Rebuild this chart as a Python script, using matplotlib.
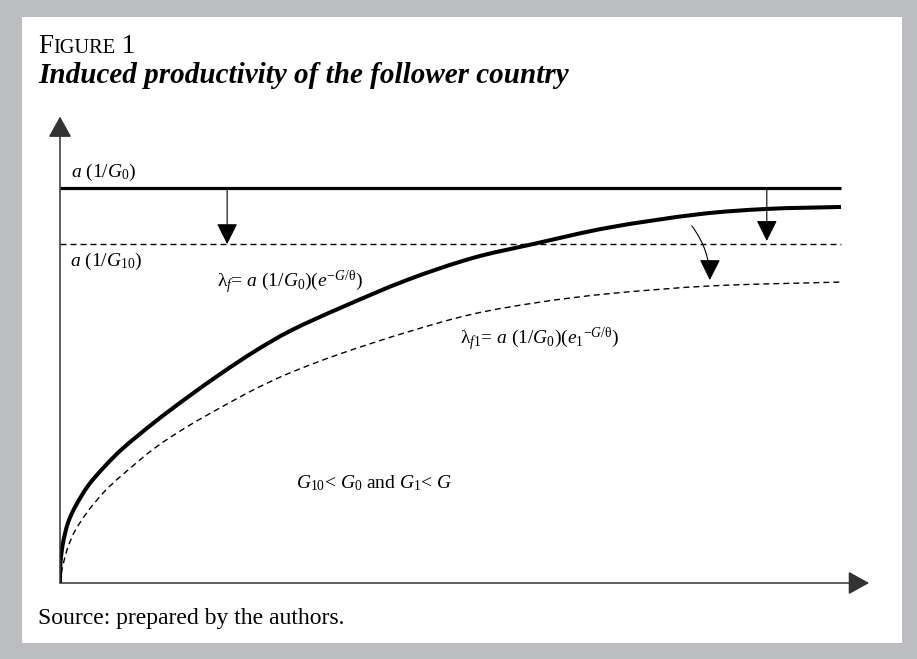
import numpy as np
import matplotlib.pyplot as plt
from matplotlib.patches import Rectangle, PathPatch
from matplotlib.path import Path

# Data (schematic units: G on x, productivity on y)
top_level = 10.0        # a (1/G0)
low_level = 8.58        # a (1/G10)

g_solid = [0, 0.006, 0.038, 0.102, 0.192, 0.359, 0.576, 0.794, 1.216, 1.639, 2.074,
           2.497, 2.945, 3.585, 4.443, 5.288, 6.056, 7.004, 8.195, 9.052, 10.0]
lam_f = [0, 0.51, 1.01, 1.52, 1.92, 2.46, 2.96, 3.39, 4.08, 4.71, 5.32,
         5.87, 6.38, 6.96, 7.67, 8.23, 8.58, 8.99, 9.34, 9.47, 9.52]

g_dash = [0, 0.013, 0.051, 0.102, 0.192, 0.359, 0.576, 0.794, 1.216, 1.639, 2.074,
          2.497, 2.945, 3.585, 4.443, 5.288, 6.146, 7.004, 8.323, 10.0]
lam_f1 = [0, 0.20, 0.56, 0.91, 1.32, 1.82, 2.33, 2.73, 3.42, 3.97, 4.46,
          4.91, 5.32, 5.80, 6.35, 6.81, 7.11, 7.32, 7.52, 7.62]


def smooth_path(xs, ys, aspect=0.506):
    # cubic curve through the read points (chord-length Catmull-Rom)
    P = np.column_stack([xs, ys]).astype(float)
    d = np.hypot(np.diff(P[:, 0]), np.diff(P[:, 1]) * aspect)
    t = np.concatenate([[0], np.cumsum(d)])
    n = len(P)
    m = np.zeros_like(P)
    m[0] = (P[1] - P[0]) / (t[1] - t[0])
    m[-1] = (P[-1] - P[-2]) / (t[-1] - t[-2])
    for i in range(1, n - 1):
        m[i] = (P[i + 1] - P[i - 1]) / (t[i + 1] - t[i - 1])
    verts = [P[0]]
    codes = [Path.MOVETO]
    for i in range(n - 1):
        h = t[i + 1] - t[i]
        verts += [P[i] + m[i] * h / 3, P[i + 1] - m[i + 1] * h / 3, P[i + 1]]
        codes += [Path.CURVE4] * 3
    return Path(verts, codes)


W, H = 917, 659
fig = plt.figure(figsize=(W / 100, H / 100), dpi=100)
fig.patch.set_facecolor('#bcbdc1')
fig.patches.append(Rectangle((22 / W, 1 - 643 / H), (902 - 22) / W, (643 - 17) / H,
                             transform=fig.transFigure, facecolor='white',
                             edgecolor='none', zorder=-5))

plt.rcParams['font.family'] = ['Liberation Serif', 'DejaVu Serif']
plt.rcParams['mathtext.fontset'] = 'custom'
plt.rcParams['mathtext.rm'] = 'Liberation Serif'
plt.rcParams['mathtext.it'] = 'Liberation Serif:italic'

# axes: origin at pixel (60, 583); 1 x-unit = 78.1 px, 1 y-unit = 39.5 px
xmax, ymax = 10.4, 11.85
ax = fig.add_axes([60 / W, (H - 583) / H, xmax * 78.1 / W, ymax * 39.5 / H])
ax.set_xlim(0, xmax)
ax.set_ylim(0, ymax)
ax.axis('off')
ax.patch.set_alpha(0)

axis_arrow = dict(arrowstyle='-|>,head_length=1.3,head_width=0.72', mutation_scale=10,
                  color='#333333', lw=1.1, shrinkA=0, shrinkB=0)
ax.annotate('', xy=(xmax - 0.04, 0), xytext=(0, 0), arrowprops=axis_arrow,
            annotation_clip=False)
ax.annotate('', xy=(0, ymax - 0.04), xytext=(0, 0), arrowprops=axis_arrow,
            annotation_clip=False)

ax.plot([0, 10], [top_level, top_level], color='black', lw=2.3, solid_capstyle='butt')
ax.plot([0, 10], [low_level, low_level], color='black', lw=1.0, dashes=(4.3, 2.9))
ax.add_patch(PathPatch(smooth_path(g_solid, lam_f), facecolor='none', edgecolor='black',
                       lw=2.9, capstyle='butt'))
ax.add_patch(PathPatch(smooth_path(g_dash, lam_f1), facecolor='none', edgecolor='black',
                       lw=1.0, linestyle=(0, (4.3, 2.9))))

small_arrow = dict(arrowstyle='-|>,head_length=1.3,head_width=0.65', mutation_scale=10,
                   color='black', lw=0.8, shrinkA=0, shrinkB=0)
ax.annotate('', xy=(2.14, low_level), xytext=(2.14, top_level), arrowprops=small_arrow)
ax.annotate('', xy=(9.05, 8.66), xytext=(9.05, top_level), arrowprops=small_arrow)
curved = dict(small_arrow, connectionstyle='arc3,rad=-0.17')
ax.annotate('', xy=(8.32, 7.67), xytext=(8.09, 9.04), arrowprops=curved)

fs = 14
ax.text(0.14, 10.28, r'$a$ (1/$G_0$)', fontsize=fs, va='baseline')
ax.text(0.13, 8.03, r'$a$ (1/$G_{10}$)', fontsize=fs, va='baseline')
ax.text(2.01, 7.49, r'λ$_f$= $a$ (1/$G_0$)($e^{-G/\mathrm{θ}}$)', fontsize=fs,
        va='baseline')
ax.text(5.12, 6.05, r'λ$_{f1}$= $a$ (1/$G_0$)($e_1{}^{-G/\mathrm{θ}}$)', fontsize=fs,
        va='baseline')
ax.text(3.02, 2.41, r'$G_{10}$< $G_0$ and $G_1$< $G$', fontsize=fs, va='baseline')

# title block (small caps built from two sizes)
t1 = fig.text(38 / W, 1 - 53 / H, 'F', fontsize=19.5, va='baseline')
fig.canvas.draw()
r = fig.canvas.get_renderer()
bb = t1.get_window_extent(r)
t2 = fig.text(bb.x1 / W, 1 - 53 / H, 'IGURE', fontsize=14.7, va='baseline')
fig.canvas.draw()
bb2 = t2.get_window_extent(r)
fig.text(bb2.x1 / W, 1 - 53 / H, ' 1', fontsize=19.5, va='baseline')

fig.text(38 / W, 1 - 83 / H, 'Induced productivity of the follower country',
         fontsize=21, fontweight='bold', fontstyle='italic', va='baseline')
fig.text(38 / W, 1 - 624 / H, 'Source: prepared by the authors.', fontsize=17,
         va='baseline')

fig.savefig('out.png', dpi=100, facecolor=fig.get_facecolor())
